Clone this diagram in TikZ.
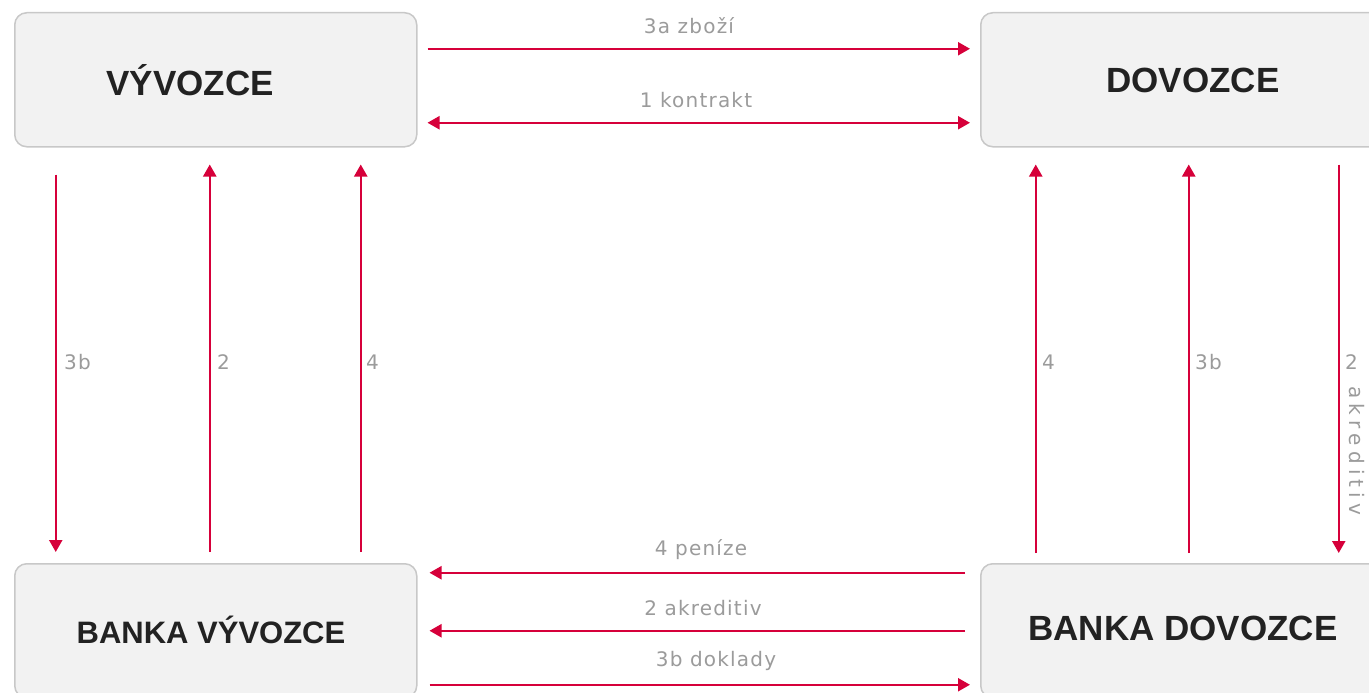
\documentclass[tikz,border=0pt]{standalone}
\usepackage{fontspec}
\setmainfont{Liberation Sans}
\newfontfamily\lblfamily[LetterSpace=6]{DejaVu Sans}
\newfontfamily\widefamily[LetterSpace=26]{DejaVu Sans}
\usetikzlibrary{arrows.meta}
\definecolor{rd}{RGB}{214,0,58}
\definecolor{boxfill}{RGB}{242,242,242}
\definecolor{boxline}{RGB}{200,200,200}
\definecolor{lblgray}{RGB}{155,155,155}
\definecolor{ink}{RGB}{34,34,34}
\tikzset{
  box/.style={rectangle, rounded corners=12pt, draw=boxline, fill=boxfill, line width=1.5pt,
    minimum width=402pt, minimum height=134pt, inner sep=0pt, anchor=north west},
  title/.style={text=ink, font=\fontsize{35}{40}\selectfont\bfseries, inner sep=0pt},
  conn/.style={draw=rd, line width=2.2pt, -{Triangle[length=12pt,width=13pt]}},
  conn2/.style={draw=rd, line width=2.2pt, {Triangle[length=12pt,width=13pt]}-{Triangle[length=12pt,width=13pt]}},
  lbl/.style={text=lblgray, font=\lblfamily\fontsize{20}{24}\selectfont, inner sep=0pt},
}
\begin{document}
\begin{tikzpicture}[x=1pt,y=-1pt]
\useasboundingbox (0,0) rectangle (1369,693);
\clip (0,0) rectangle (1369,693);
\fill[white] (0,0) rectangle (1369,693);
% boxes
\node[box] (vyv) at (14,12) {};
\node[box] (dov) at (980,12) {};
\node[box] (bvy) at (14,563) {};
\node[box] (bdo) at (980,563) {};
\node[title] (vyvT) at (190,80) {VÝVOZCE};
\node[title] (dovT) at (1193,80) {DOVOZCE};
\node[title, font=\fontsize{31}{36}\selectfont\bfseries] (bvyT) at (211,630) {BANKA VÝVOZCE};
\node[title] (bdoT) at (1183,628) {BANKA DOVOZCE};
% horizontal connectors top
\draw[conn, shorten <=10pt, shorten >=10pt] ([yshift=31pt]vyv.east) -- ([yshift=31pt]dov.west);
\draw[conn2, shorten <=10pt, shorten >=10pt] ([yshift=-43pt]vyv.east) -- ([yshift=-43pt]dov.west);
% horizontal connectors bottom
\draw[conn, shorten <=15pt, shorten >=12pt] ([yshift=58pt]bdo.west) -- ([yshift=58pt]bvy.east);
\draw[conn, shorten <=15pt, shorten >=12pt] (bdo.west) -- (bvy.east);
\draw[conn, shorten <=12pt, shorten >=10pt] ([yshift=-54pt]bvy.east) -- ([yshift=-54pt]bdo.west);
% vertical connectors left
\draw[conn, shorten <=27pt, shorten >=11pt] ([xshift=-160pt]vyv.south) -- ([xshift=-160pt]bvy.north);
\draw[conn, shorten <=11pt, shorten >=17pt] ([xshift=-6pt]bvy.north) -- ([xshift=-6pt]vyv.south);
\draw[conn, shorten <=11pt, shorten >=17pt] ([xshift=145pt]bvy.north) -- ([xshift=145pt]vyv.south);
% vertical connectors right
\draw[conn, shorten <=10pt, shorten >=17pt] ([xshift=-146pt]bdo.north) -- ([xshift=-146pt]dov.south);
\draw[conn, shorten <=10pt, shorten >=17pt] ([xshift=7pt]bdo.north) -- ([xshift=7pt]dov.south);
\draw[conn, shorten <=17pt, shorten >=10pt] ([xshift=157pt]dov.south) -- ([xshift=157pt]bdo.north);
% labels
\node[lbl] (l3a) at (689,26) {3a zboží};
\node[lbl] (l1) at (696,100) {1 kontrakt};
\node[lbl] (l4p) at (701,550) {4 peníze};
\node[lbl] (l2a) at (703,608) {2 akreditiv};
\node[lbl] (l3bd) at (716,661) {3b doklady};
\node[lbl, anchor=west] (v3bL) at (64,362) {3b};
\node[lbl, anchor=west] (v2L) at (217,362) {2};
\node[lbl, anchor=west] (v4L) at (366,362) {4};
\node[lbl, anchor=west] (v4R) at (1042,362) {4};
\node[lbl, anchor=west] (v3bR) at (1195,362) {3b};
\node[lbl, anchor=west] (v2R) at (1345,362) {2};
\node[lbl, font=\widefamily\fontsize{20}{24}\selectfont, rotate=-90] (vakr) at (1357,451) {akreditiv};
\end{tikzpicture}
\end{document}
